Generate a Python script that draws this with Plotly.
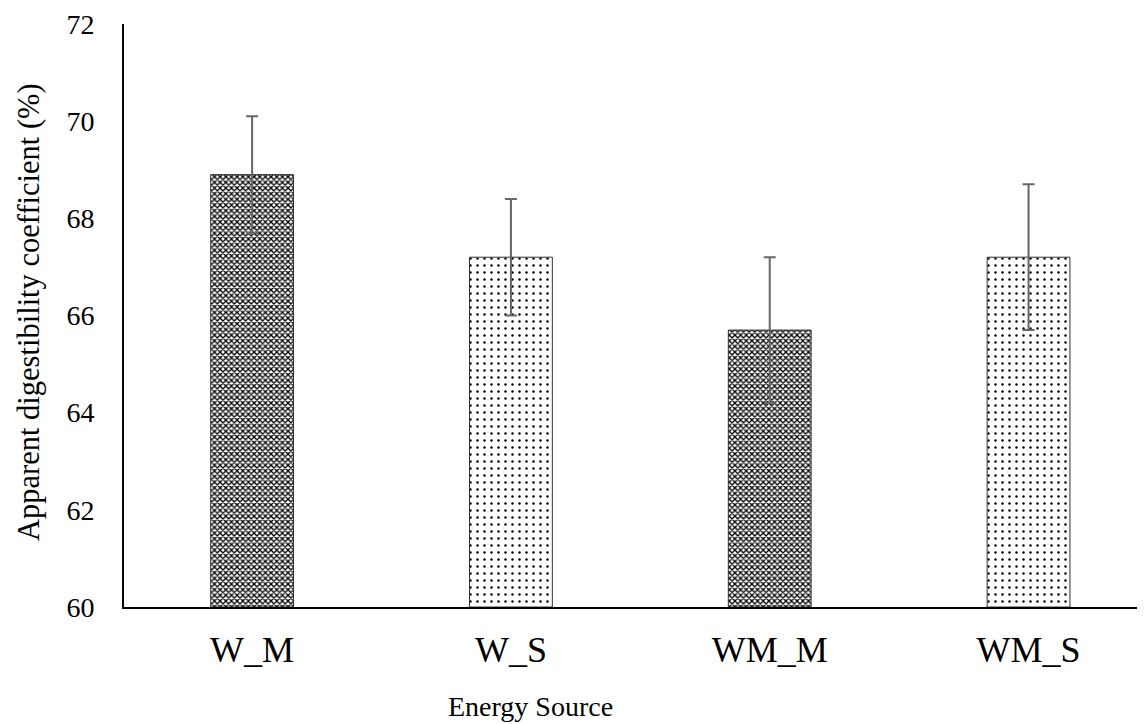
import plotly.graph_objects as go

categories = ["W_M", "W_S", "WM_M", "WM_S"]
values = [68.9, 67.2, 65.7, 67.2]
errors = [1.2, 1.2, 1.5, 1.5]
pattern_kind = ["dense", "sparse", "dense", "sparse"]
y_ticks = [60, 62, 64, 66, 68, 70, 72]

fig = go.Figure()
for cat, v, e, kind in zip(categories, values, errors, pattern_kind):
    if kind == "dense":
        pat = dict(shape="x", size=4, solidity=0.55, fgcolor="black", bgcolor="white", fillmode="replace")
    else:
        pat = dict(shape=".", size=7, solidity=0.1, fgcolor="black", bgcolor="white", fillmode="replace")
    fig.add_trace(go.Bar(
        x=[cat], y=[v - 60], base=60, width=0.32,
        marker=dict(color="white", pattern=pat, line=dict(color="#333", width=1)),
        error_y=dict(type="data", array=[e], color="#666", thickness=2, width=6),
        showlegend=False,
    ))

fig.update_layout(
    width=1137, height=716,
    margin=dict(l=116, r=0, t=16, b=117),
    plot_bgcolor="white", paper_bgcolor="white",
    font=dict(family="Liberation Serif", color="black"),
    xaxis=dict(
        type="category", range=[-0.495, 3.45],
        showline=True, linecolor="black", linewidth=2,
        ticks="outside", ticklen=10, tickcolor="rgba(0,0,0,0)",
        tickfont=dict(size=36, family="Liberation Serif"),
        showgrid=False, zeroline=False,
    ),
    yaxis=dict(
        range=[60, 72], tickvals=y_ticks,
        showline=True, linecolor="black", linewidth=2,
        ticks="outside", ticklen=22, tickcolor="rgba(0,0,0,0)",
        tickfont=dict(size=28, family="Liberation Serif"),
        showgrid=False, zeroline=False,
    ),
    annotations=[
        dict(text="Energy Source", xref="paper", yref="paper",
             x=(530 - 124) / 1021, y=-(707 - 607) / 583, xanchor="center", yanchor="middle",
             showarrow=False, font=dict(size=28, family="Liberation Serif")),
        dict(text="Apparent digestibility coefficient (%)", xref="paper", yref="paper",
             x=(29 - 124) / 1021, y=(607 - 312) / 583, xanchor="center", yanchor="middle",
             textangle=-90, showarrow=False, font=dict(size=30.5, family="Liberation Serif")),
    ],
)

fig.write_html("out.html")
